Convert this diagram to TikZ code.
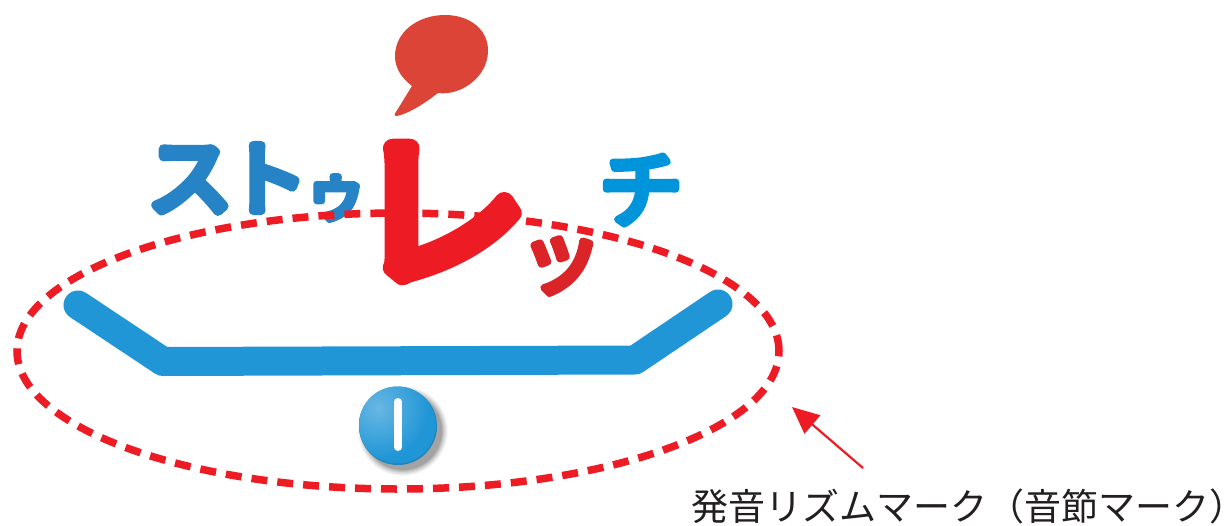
\documentclass[tikz,border=0pt]{standalone}
\usepackage{fontspec}
\usetikzlibrary{shapes.geometric,arrows.meta}
\newfontfamily\jpfont{Noto Sans CJK JP}
\newfontfamily\jpheavy[FakeBold=11]{Noto Sans CJK JP}
\newfontfamily\jpmedium[FakeBold=8.5]{Noto Sans CJK JP}
\definecolor{barblue}{HTML}{2196D6}
\definecolor{logored}{HTML}{ED1C24}
\definecolor{bubblered}{HTML}{DC4437}
\definecolor{kanablue}{HTML}{2683C6}
\definecolor{chiblue}{HTML}{0095DA}
\definecolor{tsured}{HTML}{DA2428}
\definecolor{labelgrey}{HTML}{231F20}
\newcommand{\roundink}{\special{pdf:code 1 j 1 J}}
\tikzset{
  kana/.style={inner sep=0pt,outer sep=0pt},
  rhythmbar/.style={line width=29pt,color=barblue,line cap=round,line join=round},
  markring/.style={ellipse,draw=logored,line width=7.5pt,dash pattern=on 16pt off 10pt,inner sep=0pt,minimum width=762pt,minimum height=276pt},
  pointer/.style={color=logored,line width=2.2pt,-{Triangle[length=27pt,width=24pt]}}
}
\begin{document}
\begin{tikzpicture}[x=1pt,y=-1pt]
\useasboundingbox (0,0) rectangle (1226,525);
% speech bubble
\fill[bubblered] (395,58) .. controls (394,32) and (418,15) .. (445,15)
  .. controls (470,15) and (489,30) .. (488,52)
  .. controls (487,78) and (460,96) .. (438,93)
  .. controls (425,103) and (410,113) .. (397,116)
  .. controls (394,116) and (394,114) .. (396,112)
  -- (412,86) .. controls (402,78) and (396,70) .. (395,58) -- cycle;
% kana
\node[kana,text=kanablue,font=\jpheavy\fontsize{85pt}{85pt}\selectfont] (su) at (190,180) {\roundink ス};
\node[kana,text=kanablue,font=\jpheavy\fontsize{81pt}{81pt}\selectfont] (to) at (267,178) {\roundink ト};
\node[kana,text=kanablue,font=\jpheavy\fontsize{62pt}{62pt}\selectfont] (u) at (336,198) {\roundink ゥ};
\node[kana,text=chiblue,font=\jpmedium\fontsize{84pt}{84pt}\selectfont] (chi) at (641,190) {\roundink チ};
\node[kana,text=tsured,font=\jpmedium\fontsize{84pt}{84pt}\selectfont] (tsu) at (561,266) {\roundink ッ};
\node[kana,text=logored,xscale=1.04,font=\jpheavy\fontsize{168pt}{168pt}\selectfont] (re) at (441,212) {\roundink レ};
% dashed ring
\node[markring] (ring) at (398,351) {};
% bar
\coordinate (b1) at (78,305);
\coordinate (b2) at (163,361.5);
\coordinate (b3) at (635,360);
\coordinate (b4) at (718,304);
\draw[rhythmbar] (b1) -- (b2) -- (b3) -- (b4);
% ball
\foreach \r/\o in {45/.03,44/.04,43/.05,42/.06,41/.07,40/.08,39/.1}
  \fill[black,opacity=\o] (403,431) circle (\r pt);
\node[circle,minimum size=78pt,inner sep=0pt,fill=barblue!88!black] (ball) at (398,426) {};
\begin{scope}
\clip (397.5,425) circle (38.5pt);
\fill[barblue] (397.5,425) circle (38.5pt);
\shade[inner color=barblue!68!white,outer color=barblue] (378,408) circle (50pt);
\end{scope}
\draw[white,line width=8pt,line cap=round] (398,402) -- (398,447);
% label
\node[anchor=west,inner sep=0pt,text=labelgrey,font=\jpfont\fontsize{37pt}{37pt}\selectfont] (label) at (691,506) {発音リズムマーク（音節マーク\makebox[15pt][l]{）}};
\coordinate (tail) at (863,468);
\coordinate (tip) at (792,407);
\draw[pointer] (tail) -- (tip);
\end{tikzpicture}
\end{document}
